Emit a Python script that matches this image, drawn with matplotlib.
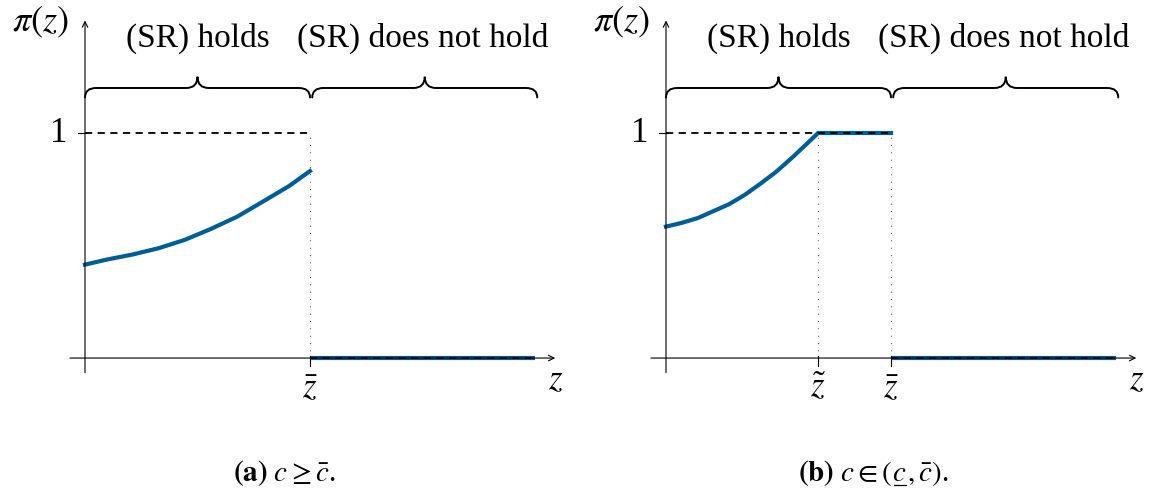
import numpy as np
from matplotlib import pyplot as plt
from matplotlib.path import Path
from matplotlib import patches
from matplotlib.lines import Line2D
from matplotlib.transforms import IdentityTransform

plt.rcParams["mathtext.fontset"] = "stix"
plt.rcParams["font.family"] = ["Liberation Serif", "DejaVu Serif"]

BLUE = "#005e96"

# panel (a): profit curve, z in units of z_bar
z_a = [0.0, 0.094, 0.211, 0.327, 0.443, 0.56, 0.676, 0.792, 0.908, 1.0]
pi_a = [0.415, 0.437, 0.46, 0.488, 0.525, 0.574, 0.628, 0.696, 0.765, 0.831]

# panel (b)
z_b = [0.0, 0.071, 0.141, 0.281, 0.35, 0.42, 0.49, 0.56, 0.63, 0.676, 1.0]
pi_b = [0.584, 0.601, 0.622, 0.684, 0.725, 0.775, 0.828, 0.89, 0.956, 1.0, 1.0]
z_tilde = 0.676

z_bar = 1.0
z_end = 2.0
brace_labels = ["(SR) holds", "(SR) does not hold"]
# caption pieces; the middle piece of (b) gets an underline (c underbar)
caption_a = [r"$\mathbf{(a)}\ c \geq \bar{c}$."]
caption_b = [r"$\mathbf{(b)}\ c \in ($", r"$c$", r"$,\bar{c})$."]


def brace(ax, x0, x1, y, h=0.1):
    # curly brace opening downwards, tip pointing up
    xm = (x0 + x1) / 2
    r = 0.05
    verts = [(x0, y - h * 0.42), (x0, y), (x0 + r, y),
             (xm - r, y), (xm, y), (xm, y + h * 0.5),
             (xm, y), (xm + r, y),
             (x1 - r, y), (x1, y), (x1, y - h * 0.42)]
    codes = [Path.MOVETO, Path.CURVE3, Path.CURVE3,
             Path.LINETO, Path.CURVE3, Path.CURVE3,
             Path.CURVE3, Path.CURVE3,
             Path.LINETO, Path.CURVE3, Path.CURVE3]
    ax.add_patch(patches.PathPatch(Path(verts, codes), fill=False, lw=1.4,
                                   color="black", capstyle="round", clip_on=False))


def setup(ax, x_left, x_right):
    ax.set_xlim(x_left, x_right)
    ax.set_ylim(-0.613, 1.591)
    ax.axis("off")
    arrow = dict(arrowstyle="->", lw=0.8, color="black", shrinkA=0, shrinkB=0)
    ax.annotate("", xy=(2.09, 0), xytext=(-0.067, 0), arrowprops=arrow)
    ax.annotate("", xy=(0, 1.5), xytext=(0, -0.065), arrowprops=arrow)
    ax.plot([-0.03, 0.01], [1, 1], color="black", lw=0.8)
    ax.plot([0, z_bar], [1, 1], color="black", lw=1.3, ls=(0, (4, 3)), zorder=4)
    ax.text(-0.115, 1, "1", fontsize=25, ha="center", va="center")
    ax.text(-0.2, 1.493, r"$\pi(z)$", fontsize=26, ha="center", va="center")
    ax.text(2.09, -0.1, r"$z$", fontsize=25, ha="center", va="center")
    ax.plot([z_bar, z_end], [0, 0], color=BLUE, lw=3, solid_capstyle="butt")
    ax.plot([z_bar, z_end], [0, 0], color="black", lw=1.3, ls=(0, (4, 3)), zorder=4)
    for zt, lab in [(z_bar, r"$\bar{z}$")]:
        ax.plot([zt, zt], [-0.035, 0.01], color="black", lw=0.8)
        ax.plot([zt, zt], [0, 1], color="black", lw=0.8, ls=(0, (0.6, 6)))
        ax.text(zt, -0.135, lab, fontsize=25, ha="center", va="center")
    brace(ax, 0, z_bar, 1.2)
    brace(ax, z_bar + 0.01, z_end + 0.01, 1.2)
    ax.text(z_bar / 2, 1.42, brace_labels[0], fontsize=24, ha="center", va="center")
    ax.text((z_bar + z_end) / 2, 1.42, brace_labels[1], fontsize=24, ha="center", va="center")


def chain(fig, parts, cx, cy, size=21):
    # lay text pieces side by side (pixel coords), centred on cx
    texts = [fig.text(0, 0, p, fontsize=size, ha="left", va="baseline",
                      transform=IdentityTransform()) for p in parts]
    rend = fig.canvas.get_renderer()
    widths = [t.get_window_extent(rend).width for t in texts]
    x = cx - sum(widths) / 2
    spans = []
    for t, w in zip(texts, widths):
        t.set_position((x, cy))
        spans.append((x, w))
        x += w
    return spans


fig = plt.figure(figsize=(11.51, 4.96), dpi=100)
ax_a = fig.add_axes([0, 0, 575 / 1151, 1])
ax_b = fig.add_axes([576 / 1151, 0, 575 / 1151, 1])

setup(ax_a, -85 / 225, 490 / 225)
setup(ax_b, -90 / 225, 485 / 225)

ax_a.plot(z_a, pi_a, color=BLUE, lw=3, solid_joinstyle="round")
ax_b.plot(z_b, pi_b, color=BLUE, lw=3, solid_joinstyle="round")

ax_b.plot([z_tilde, z_tilde], [-0.035, 0.01], color="black", lw=0.8)
ax_b.plot([z_tilde, z_tilde], [0, 1], color="black", lw=0.8, ls=(0, (0.6, 6)))
ax_b.text(z_tilde, -0.135, r"$\tilde{z}$", fontsize=25, ha="center", va="center")

base_y = 496 - 481
chain(fig, caption_a, 284, base_y)
spans = chain(fig, caption_b, 873, base_y)
ux, uw = spans[1]
fig.add_artist(Line2D([ux + 1.5, ux + uw - 0.5], [base_y - 4, base_y - 4],
                      transform=IdentityTransform(), color="black", lw=0.9))

fig.savefig("out.png", dpi=100)
